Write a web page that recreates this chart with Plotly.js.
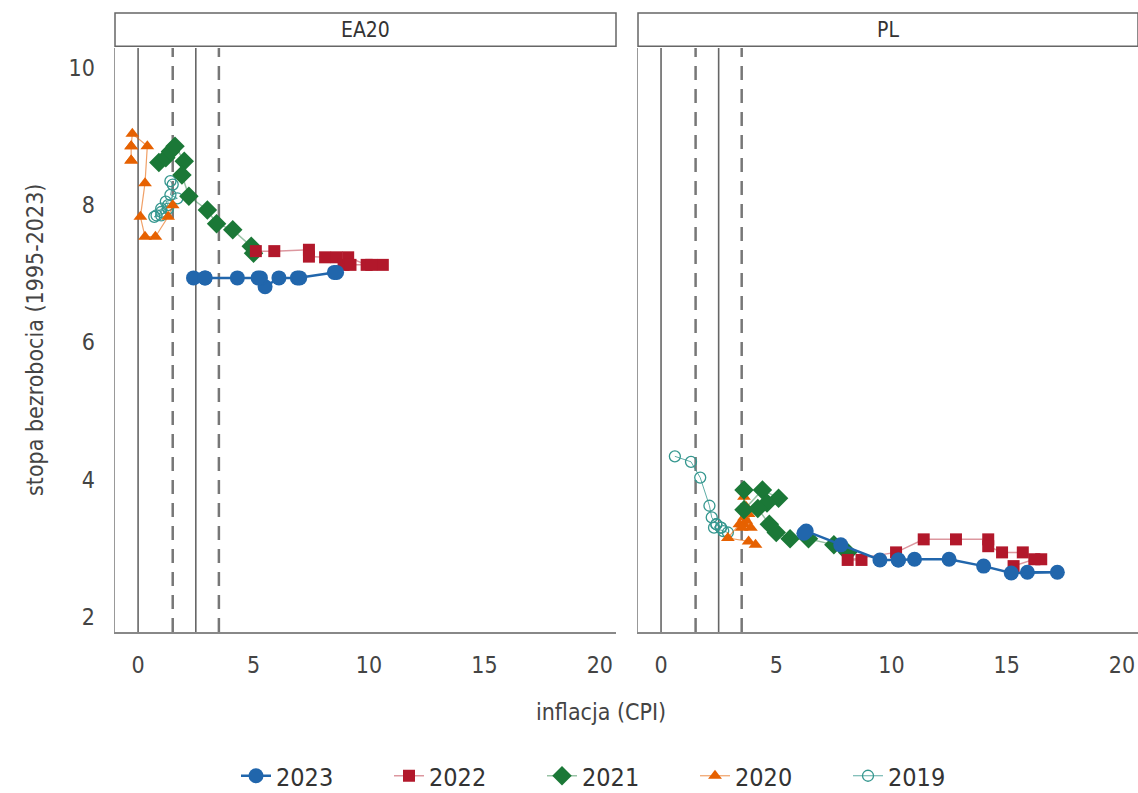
<!DOCTYPE html>
<html>
<head>
<meta charset="utf-8">
<script src="https://cdn.plot.ly/plotly-3.0.1.min.js"></script>
<style>html,body{margin:0;padding:0;background:#fff;}#chart{width:1138px;height:793px;}</style>
</head>
<body>
<div id="chart"></div>
<script>
// ---- data (inflation x, unemployment y), monthly ----
const years = ["2023", "2022", "2021", "2020", "2019"];
const panels = ["EA20", "PL"];
const xTicks = [0, 5, 10, 15, 20];
const yTicks = [2, 4, 6, 8, 10];
const refLinesSolid = [0, 2.5];
const refLinesDashed = [1.5, 3.5];

// EA20
const ea2023x = [8.6, 8.5, 6.9, 7.0, 6.1, 5.5, 5.3, 5.2, 4.3, 2.9, 2.4, 2.9];
const ea2023y = [7.02, 7.02, 6.94, 6.94, 6.94, 6.81, 6.94, 6.94, 6.94, 6.94, 6.94, 6.94];
const ea2022x = [5.1, 5.9, 7.4, 7.4, 8.1, 8.6, 8.9, 9.1, 9.9, 10.6, 10.1, 9.2];
const ea2022y = [7.33, 7.33, 7.35, 7.25, 7.24, 7.24, 7.13, 7.24, 7.13, 7.13, 7.13, 7.13];
const ea2021x = [0.9, 1.2, 1.4, 1.6, 2.0, 1.9, 2.2, 3.0, 3.4, 4.1, 4.9, 5.0];
const ea2021y = [8.62, 8.69, 8.78, 8.86, 8.64, 8.44, 8.13, 7.93, 7.73, 7.64, 7.40, 7.30];
const ea2020x = [1.5, 1.3, 0.75, 0.3, 0.1, 0.3, 0.4, -0.25, -0.3, -0.3, -0.3, -0.3];
const ea2020y = [8.0, 7.83, 7.54, 7.54, 7.83, 8.32, 8.86, 9.04, 8.86, 8.86, 8.65, 8.65];
const ea2019x = [1.4, 1.5, 1.4, 1.7, 1.2, 1.3, 1.0, 1.0, 0.8, 0.7, 1.0, 1.3];
const ea2019y = [8.35, 8.3, 8.15, 8.1, 8.05, 8.0, 7.95, 7.9, 7.85, 7.83, 7.85, 7.95];

// PL
const pl2023x = [15.9, 17.2, 15.2, 14.0, 12.5, 11.0, 10.3, 10.3, 9.5, 7.8, 6.3, 6.2];
const pl2023y = [2.65, 2.65, 2.64, 2.74, 2.84, 2.84, 2.83, 2.83, 2.83, 3.05, 3.25, 3.22];
const pl2022x = [8.7, 8.1, 10.2, 11.4, 12.8, 14.2, 14.2, 14.8, 15.7, 16.5, 16.2, 15.3];
const pl2022y = [2.83, 2.83, 2.94, 3.13, 3.13, 3.13, 3.03, 2.94, 2.94, 2.84, 2.84, 2.74];
const pl2021x = [3.6, 3.6, 4.4, 5.1, 4.6, 4.2, 4.7, 5.0, 5.6, 6.4, 7.5, 8.1];
const pl2021y = [3.85, 3.56, 3.85, 3.73, 3.66, 3.58, 3.35, 3.23, 3.14, 3.14, 3.05, 2.94];
const pl2020x = [4.1, 3.8, 2.9, 3.4, 3.6, 3.9, 3.8, 3.6, 3.7, 3.6, 3.7, 3.5];
const pl2020y = [3.05, 3.1, 3.15, 3.35, 3.35, 3.3, 3.5, 3.75, 3.6, 3.45, 3.4, 3.3];
const pl2019x = [0.6, 1.3, 1.7, 2.1, 2.2, 2.4, 2.6, 2.6, 2.4, 2.3, 2.7, 2.9];
const pl2019y = [4.34, 4.26, 4.03, 3.62, 3.45, 3.35, 3.3, 3.3, 3.35, 3.3, 3.25, 3.23];

const seriesData = {
  "2023": [[ea2023x, ea2023y], [pl2023x, pl2023y]],
  "2022": [[ea2022x, ea2022y], [pl2022x, pl2022y]],
  "2021": [[ea2021x, ea2021y], [pl2021x, pl2021y]],
  "2020": [[ea2020x, ea2020y], [pl2020x, pl2020y]],
  "2019": [[ea2019x, ea2019y], [pl2019x, pl2019y]]
};

const styles = {
  "2023": {color: "#2166ac", line: "#2166ac", lw: 2.5, symbol: "circle", size: 15},
  "2022": {color: "#b2182b", line: "rgba(178,24,43,0.45)", lw: 1.5, symbol: "square", size: 12},
  "2021": {color: "#1b7837", line: "rgba(27,120,55,0.45)", lw: 1.5, symbol: "diamond", size: 15},
  "2020": {color: "#e66101", line: "rgba(230,97,1,0.6)", lw: 1.2, symbol: "triangle-up", size: 12},
  "2019": {color: "#35978f", line: "rgba(53,151,143,0.8)", lw: 1, symbol: "circle-open", size: 11}
};

const FONT = "'Liberation Sans Narrow', 'DejaVu Sans Condensed', 'Roboto', sans-serif";
const TXT = "#444";

const traces = [];
// draw older years first so 2023 is on top
[...years].reverse().forEach(yr => {
  const s = styles[yr];
  seriesData[yr].forEach((d, i) => {
    traces.push({
      type: "scatter", mode: "lines+markers",
      x: d[0], y: d[1],
      xaxis: i === 0 ? "x" : "x2", yaxis: i === 0 ? "y" : "y2",
      name: yr, legendgroup: yr, showlegend: i === 0,
      legendrank: years.indexOf(yr) + 1,
      line: {color: s.line, width: s.lw},
      marker: {color: s.color, symbol: s.symbol, size: s.size,
               line: {color: s.color, width: s.symbol === "circle-open" ? 1.3 : 0}},
      hoverinfo: "x+y+name"
    });
  });
});

const shapes = [];
["x", "x2"].forEach((xr, i) => {
  const yr = i === 0 ? "y domain" : "y2 domain";
  refLinesSolid.forEach(v => shapes.push({type: "line", layer: "below", xref: xr, yref: yr,
    x0: v, x1: v, y0: 0, y1: 1, line: {color: "#666", width: 1.6}}));
  refLinesDashed.forEach(v => shapes.push({type: "line", layer: "below", xref: xr, yref: yr,
    x0: v, x1: v, y0: 0, y1: 1, line: {color: "#777", width: 2.5, dash: "14px,9px"}}));
});

const W = 1138, H = 793;
const dom1 = [115 / W, 616 / W];
const dom2 = [638 / W, 1];
const stripTop = 1 + 35 / 584;
[dom1, dom2].forEach((d, i) => {
  shapes.push({type: "rect", xref: "paper", yref: "paper", x0: d[0], x1: d[1], y0: 1.003, y1: stripTop,
    line: {color: "#666", width: 1.5}, fillcolor: "#fff"});
});

const annotations = [];
[dom1, dom2].forEach((d, i) => {
  annotations.push({xref: "paper", yref: "paper", x: (d[0] + d[1]) / 2, y: (1 + stripTop) / 2,
    text: panels[i], showarrow: false, xanchor: "center", yanchor: "middle",
    font: {family: FONT, size: 21, color: "#333"}});
});
annotations.push({xref: "paper", yref: "paper", x: 601 / W, y: -80 / 584, text: "inflacja (CPI)",
  showarrow: false, xanchor: "center", yanchor: "middle", font: {family: FONT, size: 23, color: TXT}});
annotations.push({xref: "paper", yref: "paper", x: 35 / W, y: (632 - 340) / 584, text: "stopa bezrobocia (1995-2023)",
  showarrow: false, textangle: -90, xanchor: "center", yanchor: "middle", font: {family: FONT, size: 23, color: TXT}});

const xaxisBase = {
  range: [-1.0, 20.7], tickvals: xTicks, ticktext: xTicks.map(String), showgrid: false, zeroline: false,
  showline: true, linecolor: "#888", linewidth: 1.5, ticks: "", ticklabelstandoff: 12,
  tickfont: {family: FONT, size: 23, color: TXT}
};
const yaxisBase = {
  range: [1.78, 10.29], tickvals: yTicks, ticktext: yTicks.map(String), showgrid: false, zeroline: false,
  showline: true, linecolor: "#999", linewidth: 1.5, ticks: "", ticklabelstandoff: 14,
  tickfont: {family: FONT, size: 23, color: TXT}, domain: [0, 1]
};

const layout = {
  width: W, height: H,
  margin: {l: 0, r: 0, t: 48, b: 161},
  paper_bgcolor: "#fff", plot_bgcolor: "#fff",
  showlegend: true,
  xaxis: Object.assign({}, xaxisBase, {domain: dom1, anchor: "y"}),
  xaxis2: Object.assign({}, xaxisBase, {domain: dom2, anchor: "y2"}),
  yaxis: Object.assign({}, yaxisBase, {anchor: "x"}),
  yaxis2: Object.assign({}, yaxisBase, {anchor: "x2", showticklabels: false}),
  shapes: shapes,
  annotations: annotations,
  legend: {orientation: "h", xref: "container", yref: "container", x: 236 / W, y: 17 / H,
    xanchor: "left", yanchor: "middle", entrywidth: 108, entrywidthmode: "pixels",
    traceorder: "normal", font: {family: FONT, size: 25, color: "#333"}, itemwidth: 30},
  hovermode: "closest"
};

Plotly.newPlot("chart", traces, layout, {displayModeBar: false, staticPlot: true});
</script>
</body>
</html>
